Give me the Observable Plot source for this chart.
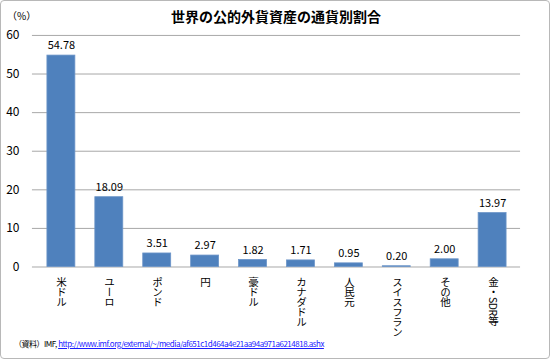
<!DOCTYPE html>
<html><head><meta charset="utf-8">
<script src="https://cdn.jsdelivr.net/npm/d3@7"></script>
<script src="https://cdn.jsdelivr.net/npm/@observablehq/plot@0.6"></script>
<style>
html,body{margin:0;padding:0;background:#fff;}
#wrap{position:relative;width:548px;height:357px;border:1px solid #b8b8b8;border-radius:4px;overflow:hidden;font-family:"Noto Sans CJK JP","Noto Sans",sans-serif;}
#chart{position:absolute;left:-1px;top:-1px;}
#title{position:absolute;left:0;width:550px;top:5px;text-align:center;font-size:14px;font-weight:bold;color:#000;}
#unit{position:absolute;left:6px;top:7px;font-size:10px;color:#000;}
#cap{position:absolute;left:13px;top:337px;font-size:8px;letter-spacing:-0.5px;color:#000;white-space:nowrap;}
#cap a{color:#1a1aff;text-decoration:underline;}
.xl{position:absolute;writing-mode:vertical-rl;font-size:10.5px;line-height:12px;letter-spacing:-0.5px;color:#000;transform:translateX(-50%);white-space:nowrap;}
</style></head>
<body>
<div id="wrap">
<div id="chart"></div>
<div id="title">世界の公的外貨資産の通貨別割合</div>
<div id="unit">（%）</div>
<div id="cap">（資料）IMF, <a href="#">http://www.imf.org/external/~/media/af651c1d464a4e21aa94a971a6214818.ashx</a></div>
</div>
<script>
const categories = ["米ドル","ユーロ","ポンド","円","豪ドル","カナダドル","人民元","スイスフラン","その他","金・SDR等"];
const values = [54.78,18.09,3.51,2.97,1.82,1.71,0.95,0.20,2.00,13.97];
const yTicks = [0,10,20,30,40,50,60];

const data = categories.map((c,i)=>({cat:c, v:values[i]}));

const chart = Plot.plot({
  width: 550,
  height: 359,
  marginLeft: 32,
  marginRight: 29,
  marginTop: 35,
  marginBottom: 92,
  style: {fontFamily: '"Noto Sans CJK JP","Noto Sans",sans-serif', fontSize: "11px", color:"#000", background:"transparent"},
  x: {domain: categories, paddingInner: 0.42, paddingOuter: 0.22, label: null, axis: null},
  y: {domain: [0,60], label: null},
  marks: [
    Plot.gridY(yTicks, {stroke: "#a8a8a8", strokeOpacity: 1, strokeWidth: 1}),
    Plot.barY(data, {x: "cat", y: "v", fill: "#4f81bd", stroke:"#6c95c8", strokeWidth:0.8}),
    Plot.text(data, {x: "cat", y: "v", text: d => d.v.toFixed(2), dy: -10, fontSize: 11, fill:"#000"}),
    Plot.axisY(yTicks, {tickSize: 0, tickPadding: 13, fontSize: 12, label: null})
  ]
});
document.getElementById("chart").appendChild(chart);

// x-axis labels: vertical Japanese text placed with the plot's own x and y scales
const xs = chart.scale("x"), ys = chart.scale("y");
const wrap = document.getElementById("wrap");
const y0 = ys.apply(0);
categories.forEach(c => {
  const el = document.createElement("div");
  el.className = "xl";
  el.textContent = c;
  el.style.left = (xs.apply(c) + xs.bandwidth / 2 - 1) + "px";
  el.style.top = (y0 + 9) + "px";
  wrap.appendChild(el);
});
</script>
</body></html>
